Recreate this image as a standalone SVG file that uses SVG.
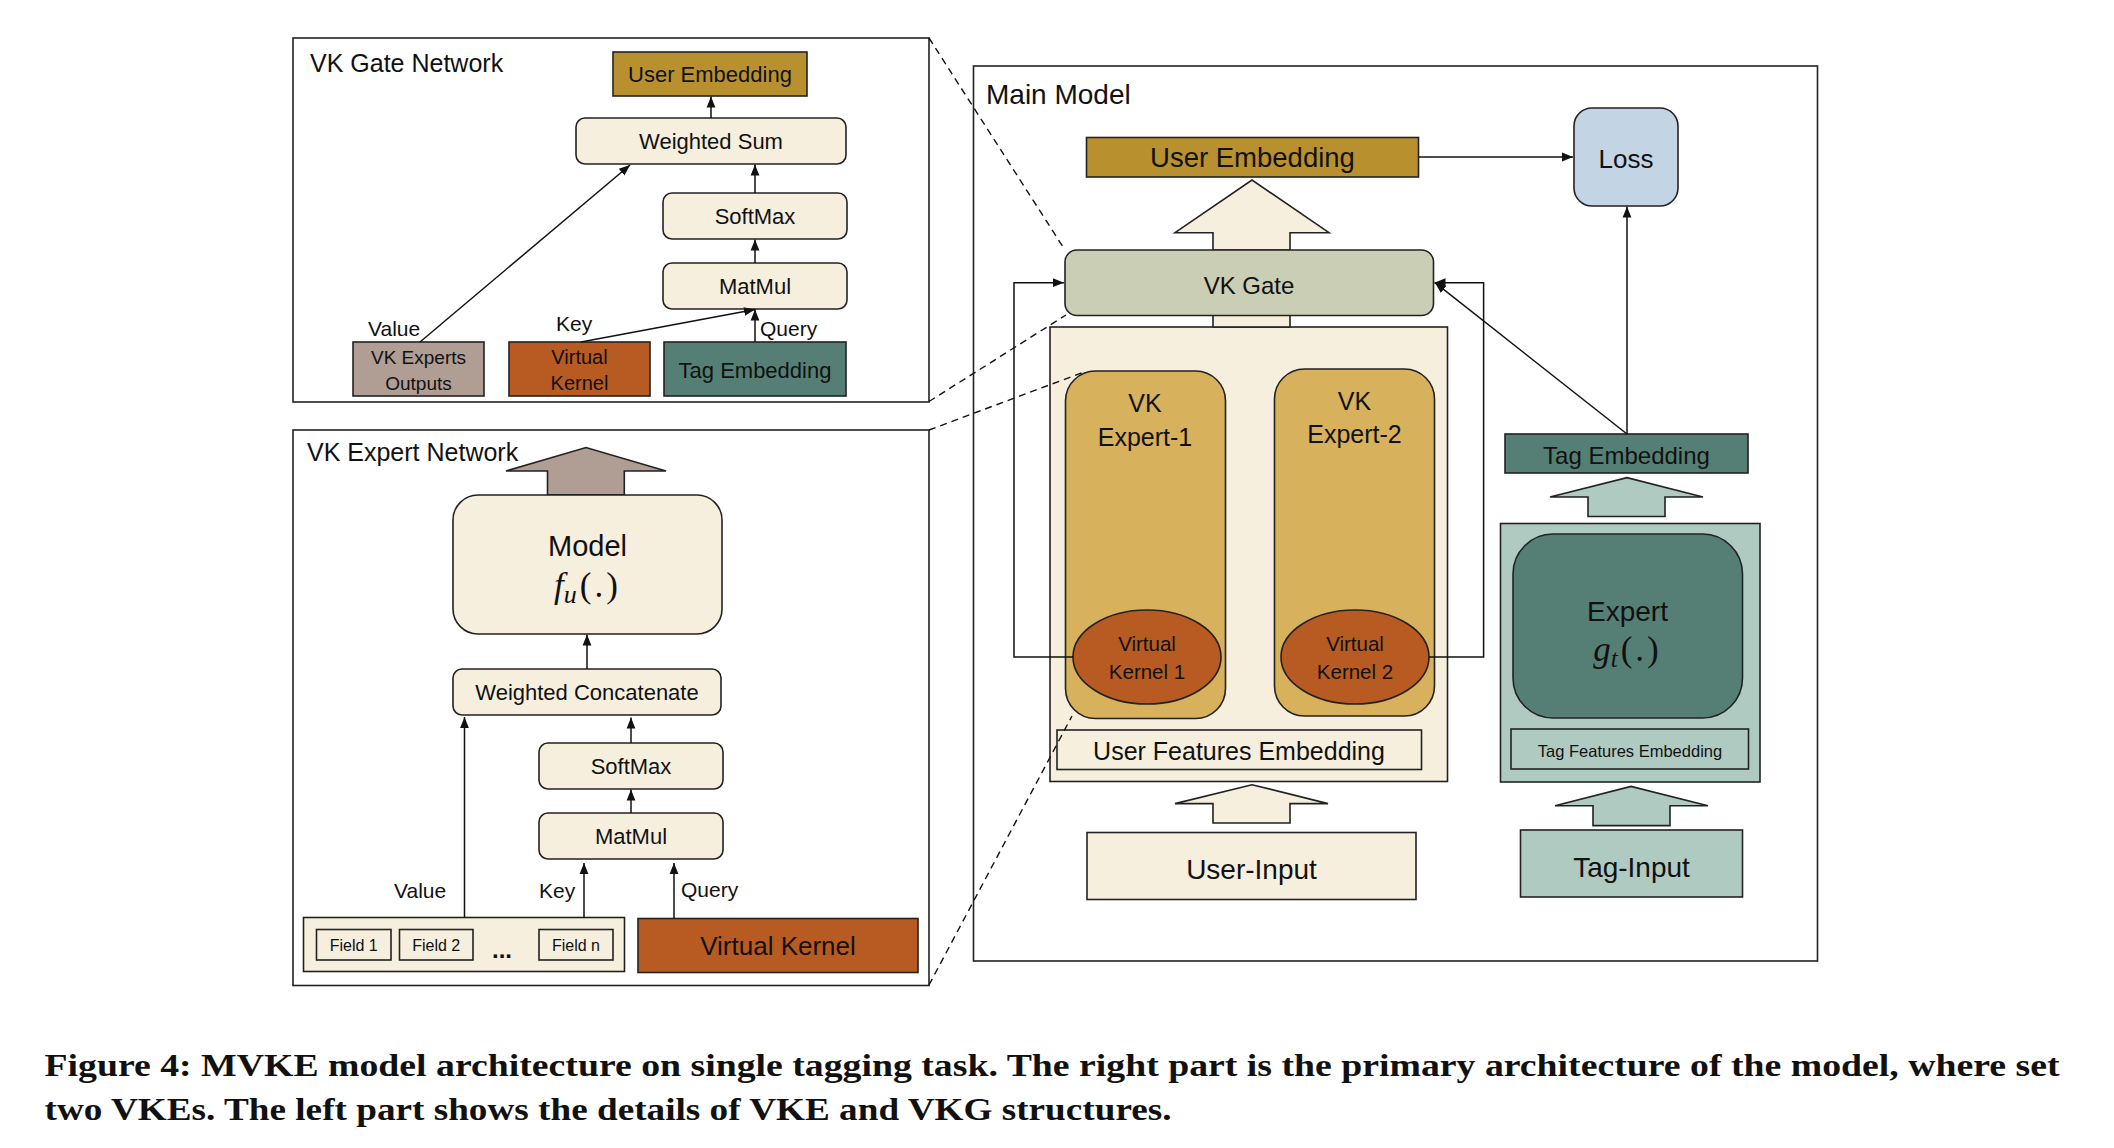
<svg xmlns="http://www.w3.org/2000/svg" width="2114" height="1148" viewBox="0 0 2114 1148">
<defs>
<marker id="ah" viewBox="0 0 10 10" refX="10" refY="5" markerWidth="11" markerHeight="11" markerUnits="userSpaceOnUse" orient="auto"><path d="M0,1 L10,5 L0,9 z" fill="#111"/></marker>
</defs>
<style>
.t{font-family:"Liberation Sans",Arial,sans-serif;fill:#111}
.c{text-anchor:middle}
.m{font-family:"Liberation Serif","Times New Roman",serif;fill:#111;text-anchor:middle}
.ln{stroke:#111;stroke-width:1.5;fill:none}
.da{stroke:#111;stroke-width:1.4;fill:none;stroke-dasharray:7 5}
.b{stroke:#222;stroke-width:1.6}
.panel{fill:#fff;stroke:#222;stroke-width:1.6}
.cream{fill:#F6EFDE}
.gold{fill:#B8912E}
.taupe{fill:#B09D93}
.orange{fill:#B85B23}
.teal{fill:#557F74}
.lteal{fill:#AFCAC1}
.sage{fill:#C9CEB5}
.mustard{fill:#D7B15C}
.blue{fill:#C3D4E5}
.cap{font-family:"Liberation Serif","Times New Roman",serif;font-weight:bold;font-size:32px;fill:#111}
</style>
<rect x="0" y="0" width="2114" height="1148" fill="#fff"/>

<g id="gate-panel">
<rect class="panel" x="293" y="38" width="636" height="364"/>
<text class="t" x="310" y="72" font-size="25">VK Gate Network</text>
</g>
<g id="gate-user-embedding"><rect class="gold b" x="613" y="52" width="194" height="44"/><text class="t c" x="710" y="82" font-size="22">User Embedding</text></g>
<g id="gate-weighted-sum"><rect class="cream b" x="576" y="118" width="270" height="46" rx="9"/><text class="t c" x="711" y="149" font-size="22">Weighted Sum</text></g>
<g id="gate-softmax"><rect class="cream b" x="663" y="193" width="184" height="46" rx="9"/><text class="t c" x="755" y="224" font-size="22">SoftMax</text></g>
<g id="gate-matmul"><rect class="cream b" x="663" y="263" width="184" height="46" rx="9"/><text class="t c" x="755" y="294" font-size="22">MatMul</text></g>
<g id="gate-vk-experts-outputs"><rect class="taupe b" x="353" y="342" width="131" height="54"/><text class="t c" x="418.5" y="364" font-size="19">VK Experts</text><text class="t c" x="418.5" y="390" font-size="19">Outputs</text></g>
<g id="gate-virtual-kernel"><rect class="orange b" x="509" y="342" width="141" height="54"/><text class="t c" x="579.5" y="364" font-size="20">Virtual</text><text class="t c" x="579.5" y="390" font-size="20">Kernel</text></g>
<g id="gate-tag-embedding"><rect class="teal b" x="664" y="342" width="182" height="54"/><text class="t c" x="755" y="378" font-size="22">Tag Embedding</text></g>
<g id="gate-labels">
<text class="t" x="368" y="336" font-size="21">Value</text>
<text class="t" x="556" y="331" font-size="21">Key</text>
<text class="t" x="760" y="336" font-size="21">Query</text>
</g>

<g id="expert-panel">
<rect class="panel" x="293" y="430" width="636" height="555.5"/>
<text class="t" x="307" y="461" font-size="25">VK Expert Network</text>
<polygon class="taupe b" points="547.5,494.8 547.5,471 506,471 586,447.6 666,471 624.3,471 624.3,494.8"/>
</g>
<g id="expert-model"><rect class="cream b" x="453" y="495" width="269" height="139" rx="25"/><text class="t c" x="587.5" y="556" font-size="29">Model</text>
<text class="m" x="587.5" y="597" font-size="35"><tspan font-style="italic">f</tspan><tspan font-style="italic" font-size="26" dy="6">u</tspan><tspan dy="-6" dx="3" letter-spacing="3">(.)</tspan></text></g>
<g id="expert-weighted-concatenate"><rect class="cream b" x="453" y="669" width="268" height="46" rx="9"/><text class="t c" x="587" y="700" font-size="22">Weighted Concatenate</text></g>
<g id="expert-softmax"><rect class="cream b" x="539" y="743" width="184" height="46" rx="9"/><text class="t c" x="631" y="774" font-size="22">SoftMax</text></g>
<g id="expert-matmul"><rect class="cream b" x="539" y="813" width="184" height="46" rx="9"/><text class="t c" x="631" y="844" font-size="22">MatMul</text></g>
<g id="expert-fields"><rect class="cream b" x="303.5" y="917.5" width="321" height="54"/>
<rect class="cream b" x="316.5" y="929.5" width="74.5" height="30.5"/><text class="t c" x="353.75" y="951" font-size="16">Field 1</text>
<rect class="cream b" x="399.5" y="929.5" width="73.5" height="30.5"/><text class="t c" x="436.25" y="951" font-size="16">Field 2</text>
<text class="t c" x="502" y="958" font-size="24" font-weight="bold">...</text>
<rect class="cream b" x="539" y="929.5" width="74" height="30.5"/><text class="t c" x="576" y="951" font-size="16">Field n</text></g>
<g id="expert-virtual-kernel"><rect class="orange b" x="638" y="918.5" width="280" height="54"/><text class="t c" x="778" y="955" font-size="26">Virtual Kernel</text></g>
<g id="expert-labels">
<text class="t" x="394" y="898" font-size="21">Value</text>
<text class="t" x="539" y="898" font-size="21">Key</text>
<text class="t" x="681" y="897" font-size="21">Query</text>
</g>

<g id="main-panel">
<rect class="panel" x="973.5" y="66" width="844" height="895"/>
<text class="t" x="986" y="104" font-size="28">Main Model</text>
</g>
<g id="main-user-embedding"><rect class="gold b" x="1086.5" y="137.5" width="332" height="39.5"/><text class="t c" x="1252.5" y="167" font-size="27.5">User Embedding</text></g>
<g id="main-loss"><rect class="blue b" x="1574" y="108" width="104" height="98" rx="18"/><text class="t c" x="1626" y="168" font-size="26">Loss</text></g>
<g id="main-user-container"><rect class="cream b" x="1050" y="327" width="397.5" height="454.5"/>
<rect class="cream b" x="1213" y="313" width="77" height="14"/></g>
<g id="main-gate-arrow"><polygon class="cream b" points="1213,250 1213,232.7 1175,232.7 1252,180 1329,232.7 1290,232.7 1290,250"/></g>
<g id="main-vk-gate"><rect class="sage b" x="1065" y="250" width="368.5" height="65.5" rx="12"/><text class="t c" x="1249" y="293.5" font-size="24">VK Gate</text></g>
<g id="main-vk-expert-1"><rect class="mustard b" x="1065.5" y="371" width="160" height="347.5" rx="30"/><text class="t c" x="1145" y="412" font-size="25">VK</text><text class="t c" x="1145" y="445.5" font-size="25">Expert-1</text></g>
<g id="main-vk-expert-2"><rect class="mustard b" x="1274.5" y="369" width="160" height="347" rx="30"/><text class="t c" x="1354.5" y="410" font-size="25">VK</text><text class="t c" x="1354.5" y="443" font-size="25">Expert-2</text></g>
<g id="main-virtual-kernel-1"><ellipse class="orange b" cx="1147" cy="657" rx="74" ry="47"/><text class="t c" x="1147" y="651" font-size="20.5">Virtual</text><text class="t c" x="1147" y="679" font-size="20.5">Kernel 1</text></g>
<g id="main-virtual-kernel-2"><ellipse class="orange b" cx="1355" cy="657" rx="74" ry="47"/><text class="t c" x="1355" y="651" font-size="20.5">Virtual</text><text class="t c" x="1355" y="679" font-size="20.5">Kernel 2</text></g>
<g id="main-user-features"><rect class="cream b" x="1057" y="730" width="364.5" height="39.5"/><text class="t c" x="1239" y="760" font-size="25">User Features Embedding</text></g>
<g id="main-user-input-arrow"><polygon class="cream b" points="1213,823 1213,803.6 1175,803.6 1252,784.7 1328,803.6 1290,803.6 1290,823"/></g>
<g id="main-user-input"><rect class="cream b" x="1087" y="832.5" width="329" height="67"/><text class="t c" x="1251.5" y="878.5" font-size="28">User-Input</text></g>
<g id="main-tag-embedding"><rect class="teal b" x="1505" y="434" width="243" height="39"/><text class="t c" x="1626.5" y="463.5" font-size="24">Tag Embedding</text></g>
<g id="main-tag-arrow"><polygon class="lteal b" points="1588,516.5 1588,497 1550,497 1627,477.7 1703,497 1665,497 1665,516.5"/></g>
<g id="main-tag-container"><rect class="lteal b" x="1500.5" y="523.5" width="259.5" height="258.5"/></g>
<g id="main-expert-gt"><rect class="teal b" x="1513" y="534" width="229.5" height="184" rx="40"/><text class="t c" x="1627.5" y="620.5" font-size="28">Expert</text>
<text class="m" x="1627.5" y="661" font-size="35"><tspan font-style="italic">g</tspan><tspan font-style="italic" font-size="25" dy="6">t</tspan><tspan dy="-6" dx="3" letter-spacing="3">(.)</tspan></text></g>
<g id="main-tag-features"><rect class="lteal b" x="1511" y="729" width="237.5" height="40"/><text class="t c" x="1630" y="756.5" font-size="16.5">Tag Features Embedding</text></g>
<g id="main-tag-input-arrow"><polygon class="lteal b" points="1593,825.6 1593,805.7 1555,805.7 1631,786.4 1708,805.7 1670,805.7 1670,825.6"/></g>
<g id="main-tag-input"><rect class="lteal b" x="1520.5" y="830" width="222" height="67"/><text class="t c" x="1631.5" y="876.5" font-size="28">Tag-Input</text></g>

<g id="connectors">
<line class="ln" x1="711" y1="118" x2="711" y2="96.5" marker-end="url(#ah)"/>
<line class="ln" x1="755" y1="193" x2="755" y2="164.5" marker-end="url(#ah)"/>
<line class="ln" x1="755" y1="263" x2="755" y2="239.5" marker-end="url(#ah)"/>
<line class="ln" x1="420" y1="342" x2="630" y2="165" marker-end="url(#ah)"/>
<line class="ln" x1="581" y1="342" x2="755" y2="309.5" marker-end="url(#ah)"/>
<line class="ln" x1="755" y1="342" x2="755" y2="309.5" marker-end="url(#ah)"/>

<line class="ln" x1="587" y1="669" x2="587" y2="634.5" marker-end="url(#ah)"/>
<line class="ln" x1="631" y1="743" x2="631" y2="717.5" marker-end="url(#ah)"/>
<line class="ln" x1="631" y1="813" x2="631" y2="789.5" marker-end="url(#ah)"/>
<line class="ln" x1="464.5" y1="917.5" x2="464.5" y2="717" marker-end="url(#ah)"/>
<line class="ln" x1="584" y1="917.5" x2="584" y2="863" marker-end="url(#ah)"/>
<line class="ln" x1="674" y1="918.5" x2="674" y2="863" marker-end="url(#ah)"/>

<line class="ln" x1="1419" y1="157" x2="1573" y2="157" marker-end="url(#ah)"/>
<polyline class="ln" points="1073,657 1014,657 1014,282.7 1064,282.7" marker-end="url(#ah)"/>
<polyline class="ln" points="1429,657 1483.6,657 1483.6,282.7 1434.5,282.7" marker-end="url(#ah)"/>
<line class="ln" x1="1627" y1="434" x2="1435" y2="282.7" marker-end="url(#ah)"/>
<line class="ln" x1="1627" y1="434" x2="1627" y2="206.5" marker-end="url(#ah)"/>

<line class="da" x1="929" y1="38" x2="1065" y2="250"/>
<line class="da" x1="929" y1="401.5" x2="1066" y2="315"/>
<line class="da" x1="929" y1="430" x2="1084" y2="372"/>
<line class="da" x1="929" y1="985" x2="1072" y2="716"/>
</g>

<g id="caption">
<text class="cap" x="44.5" y="1076" textLength="2015" lengthAdjust="spacingAndGlyphs">Figure 4: MVKE model architecture on single tagging task. The right part is the primary architecture of the model, where set</text>
<text class="cap" x="44.5" y="1120" textLength="1127" lengthAdjust="spacingAndGlyphs">two VKEs. The left part shows the details of VKE and VKG structures.</text>
</g>
</svg>
